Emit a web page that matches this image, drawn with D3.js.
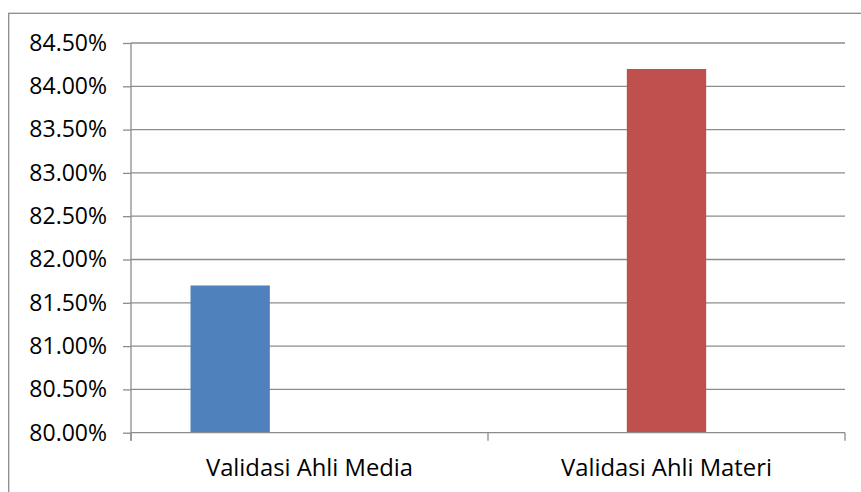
<!DOCTYPE html>
<html>
<head>
<meta charset="utf-8">
<script src="https://cdn.jsdelivr.net/npm/d3@7"></script>
<style>
  html, body { margin: 0; padding: 0; background: #fff; }
  svg { display: block; }
</style>
</head>
<body>
<svg id="chart" width="861" height="492"></svg>
<script>
// Categories on the x axis
const categories = ["Validasi Ahli Media", "Validasi Ahli Materi"];
// Series slots per category (clustered layout, third slot unused)
const seriesKeys = ["media", "materi", "lainnya"];
// Values in percent, one per category for each series
const mediaValues = [81.7, null];
const materiValues = [null, 84.2];
const otherValues = [null, null];
const seriesColors = ["#4F81BD", "#C0504D", "#9BBB59"];
// Y axis ticks
const yTicks = [80.0, 80.5, 81.0, 81.5, 82.0, 82.5, 83.0, 83.5, 84.0, 84.5];

const seriesValues = [mediaValues, materiValues, otherValues];

const svg = d3.select("#chart");
const W = 861, H = 492;
const margin = { left: 131, right: 16, top: 43, bottom: 59 };
const font = "'Open Sans', 'Liberation Sans', sans-serif";
const grey = "#8c8c8c";

// Outer chart frame
svg.append("rect")
  .attr("x", 8.7).attr("y", 13.3)
  .attr("width", 880).attr("height", 500)
  .attr("fill", "#fff")
  .attr("stroke", grey).attr("stroke-width", 1.3);

const x = d3.scaleBand()
  .domain(categories)
  .range([margin.left, W - margin.right])
  .paddingInner(0).paddingOuter(0);

// Gap between clusters is 150% of one bar width
const bw = x.bandwidth() / (seriesKeys.length + 1.5);
const xInner = d3.scaleBand()
  .domain(seriesKeys)
  .range([0.75 * bw, x.bandwidth() - 0.75 * bw])
  .padding(0);

const y = d3.scaleLinear()
  .domain([80, 84.5])
  .range([H - margin.bottom - 0.3, margin.top]);

// Horizontal gridlines
svg.append("g")
  .selectAll("line")
  .data(yTicks.filter(t => t > 80))
  .join("line")
  .attr("x1", margin.left).attr("x2", W - margin.right)
  .attr("y1", d => y(d)).attr("y2", d => y(d))
  .attr("stroke", grey).attr("stroke-width", 1.3);

// Bars
const bars = [];
seriesValues.forEach((vals, si) => {
  vals.forEach((v, ci) => {
    if (v != null) bars.push({ cat: categories[ci], key: seriesKeys[si], value: v, color: seriesColors[si] });
  });
});
svg.append("g")
  .selectAll("rect")
  .data(bars)
  .join("rect")
  .attr("x", d => x(d.cat) + xInner(d.key))
  .attr("width", xInner.bandwidth())
  .attr("y", d => y(d.value))
  .attr("height", d => y(80) - y(d.value))
  .attr("fill", d => d.color);

// Y axis
const yAxis = d3.axisLeft(y)
  .tickValues(yTicks)
  .tickSize(8)
  .tickPadding(16)
  .tickFormat(d => d.toFixed(2) + "%");
const gy = svg.append("g")
  .attr("transform", `translate(${margin.left},0)`)
  .call(yAxis);
gy.select(".domain").attr("stroke", grey).attr("stroke-width", 1.3)
  .attr("d", `M0,${y(84.5)}V${y(80) + 8}`);
gy.selectAll(".tick line").attr("stroke", grey).attr("stroke-width", 1.3);
gy.selectAll(".tick text")
  .attr("fill", "#000")
  .style("font-family", font)
  .style("font-size", "23px");

// X axis
const xAxis = d3.axisBottom(x).tickSize(0).tickPadding(0);
const gx = svg.append("g")
  .attr("transform", `translate(0,${y(80)})`)
  .call(xAxis);
gx.select(".domain").attr("stroke", grey).attr("stroke-width", 1.3)
  .attr("d", `M${margin.left},0H${W - margin.right}`);
gx.selectAll(".tick text")
  .attr("fill", "#000")
  .attr("dy", "0")
  .attr("y", 43)
  .style("font-family", font)
  .style("font-size", "23.8px");

// Category boundary tick marks
const bounds = [margin.left, ...categories.slice(1).map(c => x(c)), W - margin.right];
gx.append("g")
  .selectAll("line")
  .data(bounds)
  .join("line")
  .attr("x1", d => d).attr("x2", d => d)
  .attr("y1", 0).attr("y2", 8)
  .attr("stroke", grey).attr("stroke-width", 1.3);
</script>
</body>
</html>
